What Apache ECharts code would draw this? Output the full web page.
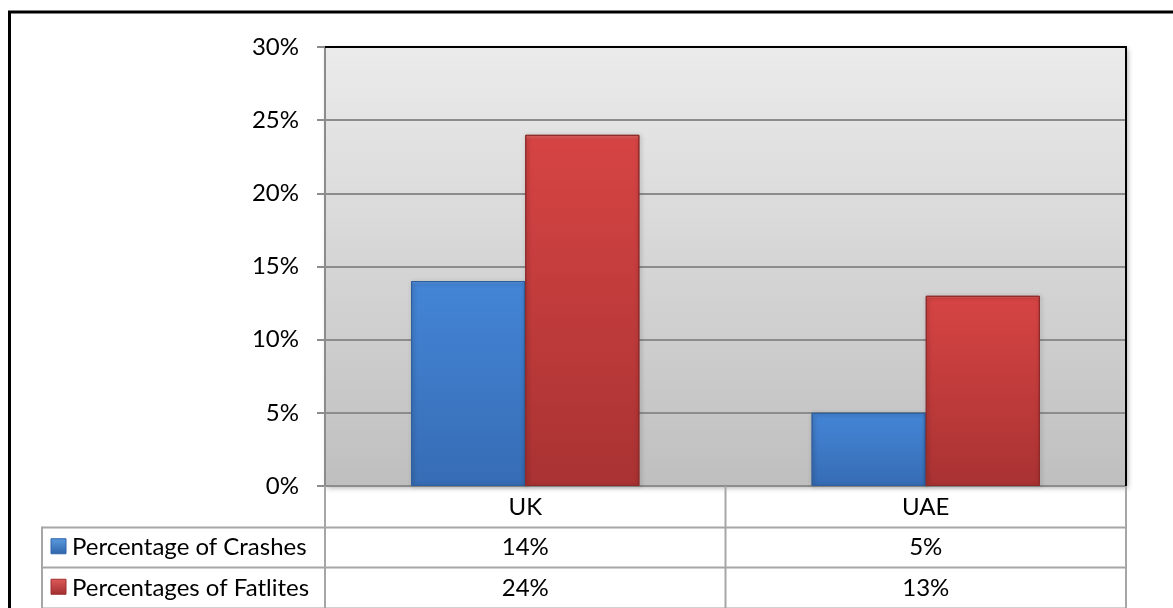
<!DOCTYPE html>
<html>
<head>
<meta charset="utf-8">
<script src="https://cdn.jsdelivr.net/npm/echarts@6/dist/echarts.min.js"></script>
<style>
  html, body { margin: 0; padding: 0; background: #fff; }
  #chart { width: 1173px; height: 608px; }
</style>
</head>
<body>
<div id="chart"></div>
<script>
// data
var countries = ['UK', 'UAE'];
var seriesNames = ['Percentage of Crashes', 'Percentages of Fatlites'];
var crashes = [14, 5];
var fatalities = [24, 13];

var chart = echarts.init(document.getElementById('chart'));

// layout
var G = { left: 325, top: 47, right: 1126, bottom: 486 };
var rowH = 40.5;
var tableLeft = 42;
var font = 'Lato, "Open Sans", sans-serif';
var fs = 24;
var lineCol = '#a6a6a6';

function barGrad(light, mid, dark) {
  return new echarts.graphic.LinearGradient(0, 0, 0, 1, [
    { offset: 0, color: light },
    { offset: 0.015, color: mid },
    { offset: 1, color: dark }
  ]);
}
var blueStyle = {
  color: barGrad('#6aa6ea', '#4485d6', '#366cb4'),
  borderColor: '#2f5f9e', borderWidth: 1,
  shadowColor: 'rgba(0,0,0,0.35)', shadowBlur: 4, shadowOffsetX: 1, shadowOffsetY: 1
};
var redStyle = {
  color: barGrad('#ea6a6a', '#d64444', '#a93232'),
  borderColor: '#8e2a2a', borderWidth: 1,
  shadowColor: 'rgba(0,0,0,0.35)', shadowBlur: 4, shadowOffsetX: 1, shadowOffsetY: 1
};

chart.setOption({
  animation: false,
  textStyle: { fontFamily: font },
  grid: {
    left: G.left, top: G.top, width: G.right - G.left, height: G.bottom - G.top,
    show: true,
    backgroundColor: new echarts.graphic.LinearGradient(0, 0, 0, 1, [
      { offset: 0, color: '#ebebeb' },
      { offset: 1, color: '#bfbfbf' }
    ]),
    borderWidth: 0,
    shadowColor: 'rgba(0,0,0,0.3)', shadowBlur: 5, shadowOffsetX: 2, shadowOffsetY: 2
  },
  xAxis: {
    type: 'category',
    data: countries,
    axisLine: { show: true, lineStyle: { color: '#8c8c8c', width: 2 } },
    axisTick: { show: false },
    axisLabel: { color: '#000', fontSize: fs, margin: 9, fontFamily: font }
  },
  yAxis: {
    type: 'value',
    min: 0, max: 30, interval: 5,
    axisLine: { show: true, lineStyle: { color: '#8c8c8c', width: 2 } },
    axisTick: { show: true, length: 8, lineStyle: { color: '#8c8c8c', width: 2 } },
    axisLabel: { color: '#000', fontSize: fs, margin: 26, formatter: '{value}%', fontFamily: font },
    splitLine: { show: true, lineStyle: { color: '#8c8c8c', width: 2 } }
  },
  series: [
    { name: seriesNames[0], type: 'bar', data: crashes, barGap: '0%', barCategoryGap: '43%', itemStyle: blueStyle },
    { name: seriesNames[1], type: 'bar', data: fatalities, itemStyle: redStyle }
  ]
});

// plot border (top and right black) + outer chart border + data table
var g = [];
g.push({ type: 'polyline', shape: { points: [[G.left, G.top], [G.right, G.top], [G.right, G.bottom]] },
  style: { stroke: '#000', lineWidth: 2, fill: null }, z: 10 });
g.push({ type: 'rect', shape: { x: 9.5, y: 12, width: 1200, height: 700 },
  style: { stroke: '#000', lineWidth: 3, fill: null }, z: 10 });

var rows = [crashes, fatalities];
var rowColors = [['#5b9be0', '#2f64a8'], ['#e05a5a', '#9e2e2e']];
var tBottom = G.bottom + rowH * 3;
// horizontal lines
for (var r = 1; r <= 3; r++) {
  var y = Math.round(G.bottom + rowH * r) + 0.5;
  g.push({ type: 'line', shape: { x1: tableLeft, y1: y, x2: G.right, y2: y }, style: { stroke: lineCol, lineWidth: 2 }, z: 5 });
}
// vertical lines
var colX = [G.left, (G.left + G.right) / 2, G.right];
colX.forEach(function (x) {
  g.push({ type: 'line', shape: { x1: x, y1: G.bottom, x2: x, y2: tBottom + 2 }, style: { stroke: lineCol, lineWidth: 2 }, z: 5 });
});
g.push({ type: 'line', shape: { x1: tableLeft, y1: G.bottom + rowH, x2: tableLeft, y2: tBottom + 2 }, style: { stroke: lineCol, lineWidth: 2 }, z: 5 });

rows.forEach(function (vals, r) {
  var cy = G.bottom + rowH * (r + 1.5);
  g.push({ type: 'rect', shape: { x: 51, y: cy - 8, width: 15, height: 15 },
    style: { fill: new echarts.graphic.LinearGradient(0, 0, 0, 1, [{ offset: 0, color: rowColors[r][0] }, { offset: 1, color: rowColors[r][1] }]), stroke: rowColors[r][1], lineWidth: 1 }, z: 6 });
  g.push({ type: 'text', x: 72, y: cy + 1, style: { text: seriesNames[r], fontSize: fs, fontFamily: font, fill: '#000', align: 'left', verticalAlign: 'middle' }, z: 6 });
  vals.forEach(function (v, c) {
    var cx = chart.convertToPixel({ xAxisIndex: 0 }, countries[c]);
    g.push({ type: 'text', x: cx, y: cy + 1, style: { text: v + '%', fontSize: fs, fontFamily: font, fill: '#000', align: 'center', verticalAlign: 'middle' }, z: 6 });
  });
});

chart.setOption({ graphic: g });

window.addEventListener('resize', function () {
  chart.resize();
});
</script>
</body>
</html>
